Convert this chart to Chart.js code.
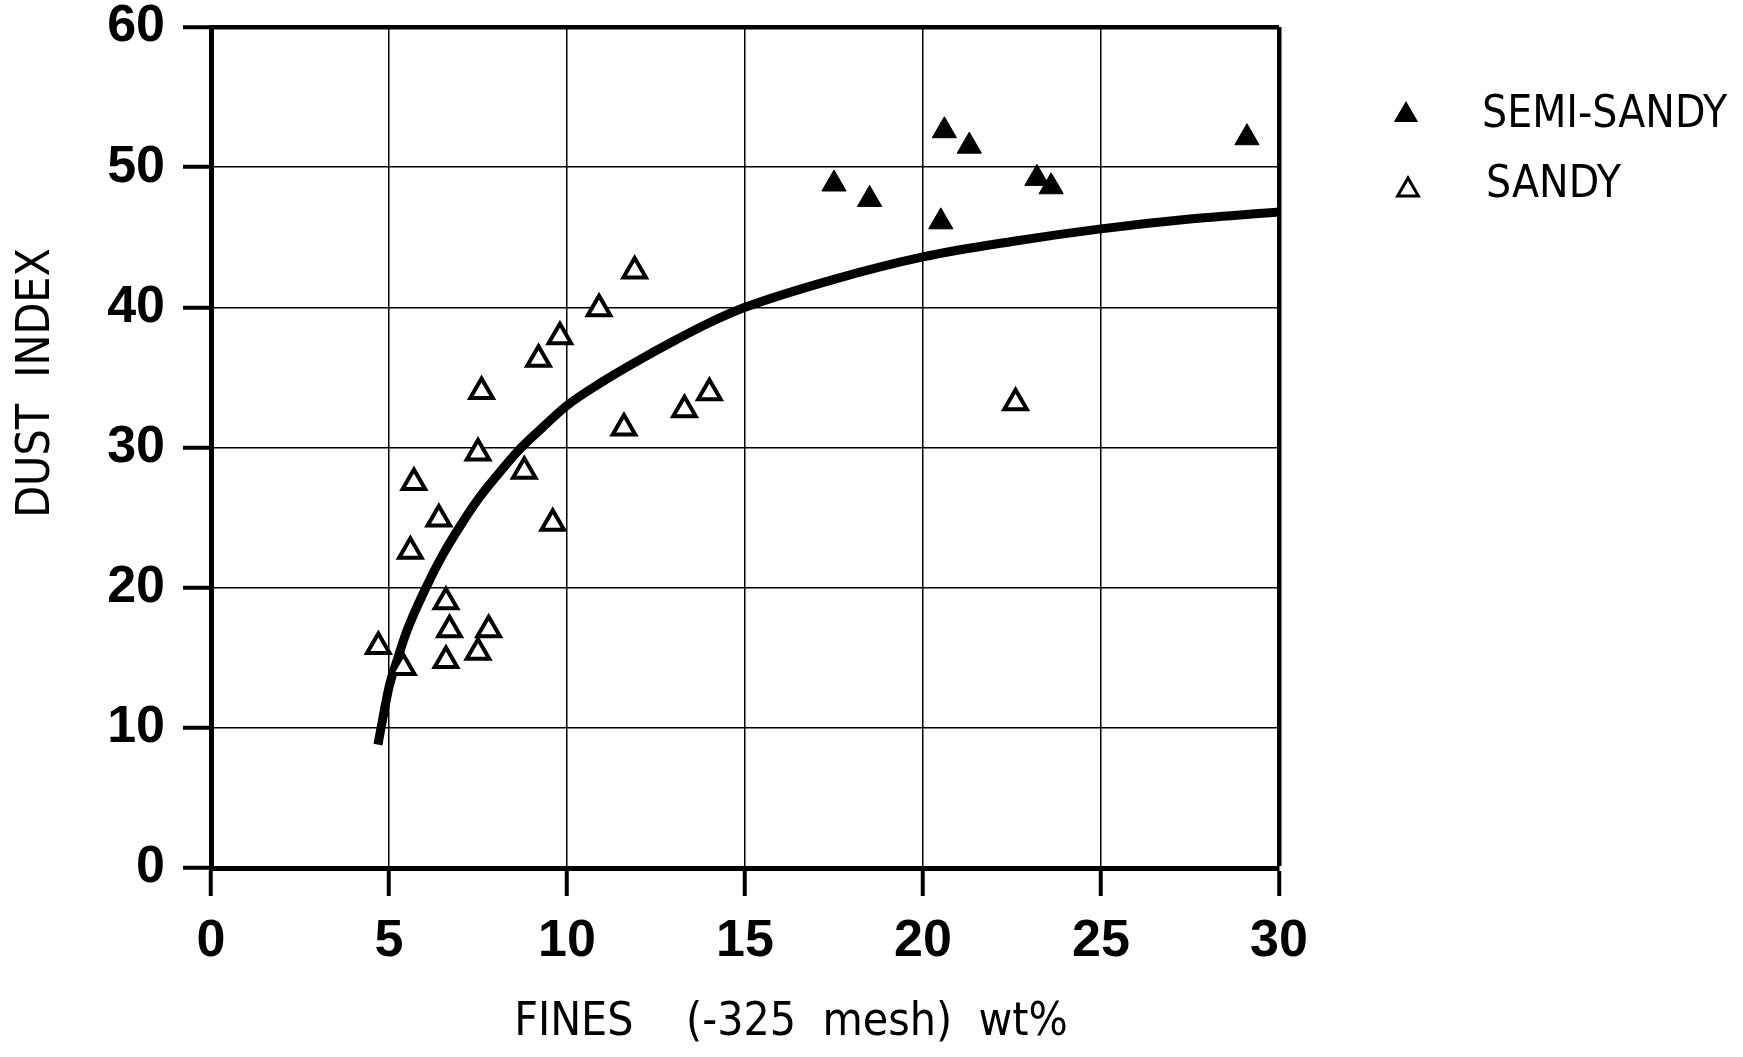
<!DOCTYPE html>
<html>
<head>
<meta charset="utf-8">
<title>Dust index vs fines</title>
<script src="https://cdn.jsdelivr.net/npm/chart.js@4.4.1/dist/chart.umd.min.js"></script>
<style>
  html, body { margin: 0; padding: 0; background: #fff; }
  #wrap { width: 1743px; height: 1057px; }
</style>
</head>
<body>
<div id="wrap"><canvas id="chart" width="1743" height="1057"></canvas></div>
<script>
// axis ticks
const xTicks = [0, 5, 10, 15, 20, 25, 30];
const yTicks = [0, 10, 20, 30, 40, 50, 60];

// filled triangles
const semiSandyX = [17.5, 18.5, 20.5, 20.6, 21.3, 23.2, 23.6, 29.1];
const semiSandyY = [48.8, 47.7, 46.1, 52.6, 51.5, 49.2, 48.6, 52.1];

// open triangles
const sandyX = [4.7, 5.4, 5.6, 5.7, 6.4, 6.6, 6.6, 6.7, 7.5, 7.5, 7.6, 7.8, 8.8, 9.2, 9.6, 9.8, 10.9, 11.6, 11.9, 13.3, 14.0, 22.6];
const sandyY = [15.8, 14.3, 22.6, 27.5, 24.9, 19.0, 14.8, 17.0, 15.4, 29.6, 34.0, 17.0, 28.3, 36.3, 24.6, 37.9, 39.9, 31.4, 42.6, 32.7, 33.9, 33.2];

// fitted curve
const curveX = [4.69, 4.85, 5.0, 5.25, 5.5, 6.0, 6.5, 7.0, 7.5, 8.0, 8.64, 9.3, 10.0, 11.0, 12.0, 13.0, 14.0, 15.0, 17.5, 20.0, 22.5, 25.0, 27.5, 30.0];
const curveY = [8.8, 11.0, 12.9, 15.0, 16.9, 19.8, 22.3, 24.4, 26.3, 27.9, 29.8, 31.4, 33.0, 34.7, 36.2, 37.6, 38.9, 40.0, 42.0, 43.6, 44.7, 45.6, 46.3, 46.8];

const xTitle = 'FINES    (-325  mesh)  wt%';
const yTitle = 'DUST  INDEX';
const legendLabels = ['SEMI-SANDY', 'SANDY'];

const FONT = '"DejaVu Sans Condensed", "DejaVu Sans", sans-serif';
const TICKFONT = '"Liberation Sans", Arial, sans-serif';

const pts = (xs, ys) => xs.map((x, i) => ({ x: x, y: ys[i] }));

function triangle(ctx, cx, cy, r) {
  ctx.beginPath();
  ctx.moveTo(cx, cy - r);
  ctx.lineTo(cx + r * Math.sin(Math.PI / 3), cy + r / 2);
  ctx.lineTo(cx - r * Math.sin(Math.PI / 3), cy + r / 2);
  ctx.closePath();
}

// axis titles + legend drawn on the canvas
const textPlugin = {
  id: 'textPlugin',
  afterDraw(chart) {
    const ctx = chart.ctx;
    ctx.save();
    ctx.fillStyle = '#000';
    ctx.strokeStyle = '#000';
    ctx.textBaseline = 'middle';

    ctx.font = '46px ' + FONT;
    ctx.textAlign = 'center';
    ctx.fillText(xTitle, 791, 1023);

    ctx.save();
    ctx.translate(37, 383);
    ctx.rotate(-Math.PI / 2);
    ctx.font = '46px ' + FONT;
    ctx.fillText(yTitle, 0, 0);
    ctx.restore();

    // legend
    triangle(ctx, 1406, 115, 14);
    ctx.fill();
    triangle(ctx, 1408, 190, 12);
    ctx.lineWidth = 3;
    ctx.stroke();

    ctx.textAlign = 'left';
    ctx.font = '44px ' + FONT;
    ctx.fillText(legendLabels[0], 1482, 116);
    ctx.fillText(legendLabels[1], 1486, 186);
    ctx.restore();
  }
};

new Chart(document.getElementById('chart'), {
  type: 'scatter',
  data: {
    datasets: [
      {
        label: legendLabels[0],
        data: pts(semiSandyX, semiSandyY),
        pointStyle: 'triangle',
        pointRadius: 14,
        backgroundColor: '#000',
        borderColor: '#000',
        borderWidth: 1,
        order: 1
      },
      {
        label: legendLabels[1],
        data: pts(sandyX, sandyY),
        pointStyle: 'triangle',
        pointRadius: 13,
        backgroundColor: '#fff',
        borderColor: '#000',
        borderWidth: 4,
        order: 1
      },
      {
        label: 'fit',
        type: 'line',
        data: pts(curveX, curveY),
        showLine: true,
        borderColor: '#000',
        borderWidth: 9,
        pointRadius: 0,
        fill: false,
        cubicInterpolationMode: 'monotone',
        order: 2
      }
    ]
  },
  options: {
    responsive: false,
    animation: false,
    devicePixelRatio: 1,
    layout: { padding: { top: 27, right: 464, left: 0, bottom: 0 } },
    plugins: { legend: { display: false }, tooltip: { enabled: false } },
    scales: {
      x: {
        type: 'linear',
        min: 0,
        max: 30,
        afterBuildTicks: s => { s.ticks = xTicks.map(v => ({ value: v })); },
        afterFit: s => { s.height = 189; s.paddingLeft = 0; s.paddingRight = 0; },
        border: { color: '#000', width: 5 },
        grid: {
          color: '#000',
          lineWidth: c => (c.tick && c.tick.value === 30 ? 4.5 : 1.5),
          tickLength: 28,
          tickWidth: 4,
          tickColor: '#000'
        },
        ticks: {
          color: '#000',
          padding: 20,
          maxRotation: 0,
          font: { family: TICKFONT, size: 52, weight: 'bold', lineHeight: 1 }
        }
      },
      y: {
        type: 'linear',
        min: 0,
        max: 60,
        afterBuildTicks: s => { s.ticks = yTicks.map(v => ({ value: v })); },
        afterFit: s => { s.width = 211; s.paddingTop = 0; s.paddingBottom = 0; },
        border: { color: '#000', width: 5 },
        grid: {
          color: '#000',
          lineWidth: c => (c.tick && c.tick.value === 60 ? 4.5 : 1.5),
          tickLength: 28,
          tickWidth: 4,
          tickColor: '#000'
        },
        ticks: {
          color: '#000',
          padding: 18,
          font: { family: TICKFONT, size: 52, weight: 'bold', lineHeight: 1 }
        }
      }
    }
  },
  plugins: [textPlugin]
});
</script>
</body>
</html>
